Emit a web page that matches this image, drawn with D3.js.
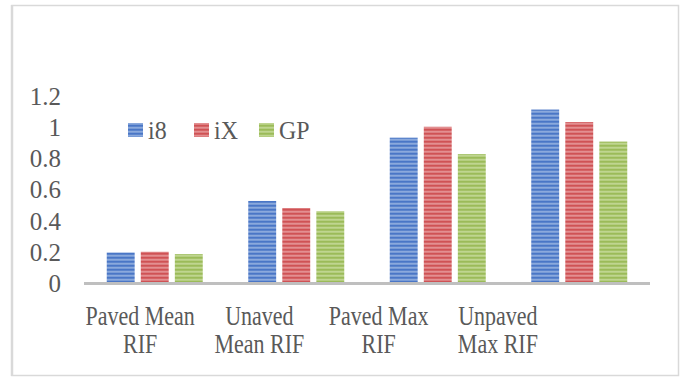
<!DOCTYPE html>
<html><head><meta charset="utf-8">
<script src="https://cdn.jsdelivr.net/npm/d3@7"></script>
<style>body{margin:0;background:#fff}svg{display:block}</style>
</head><body><svg id="c" width="682" height="377"></svg>
<script>
const categories = ["Paved Mean|RIF", "Unaved|Mean RIF", "Paved Max|RIF", "Unpaved|Max RIF"];
const seriesNames = ["i8", "iX", "GP"];
const i8 = [0.195, 0.525, 0.93, 1.11];
const iX = [0.20, 0.48, 1.0, 1.03];
const GP = [0.185, 0.46, 0.825, 0.905];
const yTicks = [0, 0.2, 0.4, 0.6, 0.8, 1, 1.2];
const colors = ["#4a76c6", "#cf5255", "#9bbb59"];
const lightColors = ["#a7bfe6", "#eba9aa", "#cfe0a8"];

const series = [i8, iX, GP];
const svg = d3.select("#c");
const font = "'Liberation Serif','Times New Roman',serif";

// frame
svg.append("rect").attr("x", 12).attr("y", 5.5).attr("width", 666.5).attr("height", 370)
  .attr("fill", "none").attr("stroke", "#d9d9d9").attr("stroke-width", 1.5);
svg.append("line").attr("x1", 12).attr("x2", 12).attr("y1", 5).attr("y2", 376)
  .attr("stroke", "#d9d9d9").attr("stroke-width", 2.5);

// patterns
const defs = svg.append("defs");
colors.forEach((c, i) => {
  const p = defs.append("pattern").attr("id", "p" + i).attr("patternUnits", "userSpaceOnUse")
    .attr("width", 8).attr("height", 4).attr("y", 0.5);
  p.append("rect").attr("width", 8).attr("height", 4).attr("fill", lightColors[i]);
  p.append("rect").attr("width", 8).attr("height", 2.6).attr("fill", c);
});

const y = d3.scaleLinear().domain([0, 1.2]).range([283, 95.5]);
const x0 = d3.scaleBand().domain(d3.range(categories.length)).range([84, 650]);
const x1 = d3.scaleBand().domain(d3.range(series.length)).range([0, 96]).paddingInner(0.18);
const xLabel = d3.scaleBand().domain(d3.range(categories.length)).range([80.5, 557.5]);

// bars
series.forEach((s, si) => {
  svg.append("g").selectAll("rect").data(s).join("rect")
    .attr("x", (d, i) => x0(i) + (x0.bandwidth() - 96) / 2 + x1(si))
    .attr("width", x1.bandwidth())
    .attr("y", d => y(d))
    .attr("height", d => y(0) - y(d))
    .attr("fill", "url(#p" + si + ")");
});

// x axis line
svg.append("line").attr("x1", x0.range()[0]).attr("x2", x0.range()[1])
  .attr("y1", y(0) + 0.5).attr("y2", y(0) + 0.5).attr("stroke", "#bfbfbf").attr("stroke-width", 3);

// y axis labels
const yAxis = d3.axisLeft(y).tickValues(yTicks).tickSize(0).tickPadding(0).tickFormat(d => String(d));
const gy = svg.append("g").attr("transform", "translate(61,0)").call(yAxis);
gy.select(".domain").remove();
gy.selectAll("text").attr("font-family", font).attr("font-size", 25).attr("fill", "#595959").attr("dy", "0.34em");

// x category labels
const gx = svg.append("g");
categories.forEach((c, i) => {
  const lines = c.split("|");
  const cx = xLabel(i) + xLabel.bandwidth() / 2;
  lines.forEach((t, li) => {
    gx.append("text").attr("transform", `translate(${cx},${325 + li * 28}) scale(0.83,1)`)
      .attr("text-anchor", "middle").attr("font-family", font).attr("font-size", 26.5)
      .attr("fill", "#595959").text(t);
  });
});

// legend
const legX = [128, 194, 259];
const leg = svg.append("g");
seriesNames.forEach((n, i) => {
  leg.append("rect").attr("x", legX[i]).attr("y", 123).attr("width", 15).attr("height", 14)
    .attr("fill", "url(#p" + i + ")");
  leg.append("text").attr("x", legX[i] + 20).attr("y", 139).attr("font-family", font)
    .attr("font-size", 26).attr("fill", "#595959")
    .attr("transform", `translate(${(legX[i] + 20) * 0.08},0) scale(0.92,1)`)
    .text(n);
});
</script></body></html>
